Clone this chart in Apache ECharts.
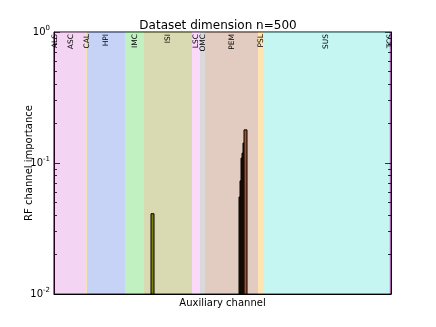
<!DOCTYPE html>
<html>
<head>
<meta charset="utf-8">
<script src="https://cdn.jsdelivr.net/npm/echarts@6/dist/echarts.min.js"></script>
<style>html,body{margin:0;padding:0;background:#fff}#c{width:436px;height:327px}</style>
</head>
<body>
<div id="c"></div>
<script>
// ---- data ----
const bandNames  = ['ALS','ASC','CAL','HPI','IMC','ISI','LSC','OMC','PEM','PSL','SUS','TCS'];
const bandStarts = [0, 1, 32, 33, 71, 90, 138, 146, 151, 204, 209, 335];
const bandEnds   = [1, 32, 33, 71, 90, 138, 146, 151, 204, 209, 335, 337];
const bandColors = ['#800080','#da70d6','#daa520','#4169e1','#32cd32','#808000','#ee82ee','#808080','#a0522d','#ffa500','#40e0d0','#ff00ff'];

const isiChannels = [97, 98, 99];
const isiValues   = [0.041, 0.041, 0.041];
const pemChannels = [185, 186, 187, 188, 189, 190, 191, 192];
const pemValues   = [0.055, 0.073, 0.109, 0.119, 0.142, 0.179, 0.179, 0.179];

const yTicks = [0.01, 0.1, 1];
const xMax = 337;

// merge adjacent channels of equal value into one bar
function buildBars(ch, val){
  const out = [];
  for (let i = 0; i < ch.length; i++){
    const last = out[out.length-1];
    if (last && last[1] === ch[i] && last[2] === val[i]) { last[1] = ch[i] + 1; }
    else out.push([ch[i], ch[i] + 1, val[i]]);
  }
  return out;
}

const bandData = bandNames.map((n, i) => [bandStarts[i], bandEnds[i], i]);

const chart = echarts.init(document.getElementById('c'), null, {renderer: 'canvas'});
const F = 'DejaVu Sans';

function barSeries(data, color){
  return {
    type: 'custom', z: 5, clip: true,
    data: data,
    encode: {x: [0, 1], y: 2},
    renderItem: function(params, api){
      const p0 = api.coord([api.value(0), api.value(2)]);
      const p1 = api.coord([api.value(1), yTicks[0]]);
      return {type: 'rect', shape: {x: p0[0], y: p0[1], width: p1[0]-p0[0], height: p1[1]-p0[1]},
              style: {fill: color, stroke: '#000', lineWidth: 1}};
    }
  };
}

chart.setOption({
  animation: false,
  textStyle: {fontFamily: F},
  title: {text: 'Dataset dimension n=500', left: 'center', top: 15,
          textStyle: {fontFamily: F, fontSize: 12, fontWeight: 'normal', color: '#000'}},
  grid: {left: 54, right: 45, top: 32, bottom: 33, show: true, borderColor: '#000', borderWidth: 1, backgroundColor: 'transparent'},
  xAxis: {type: 'value', min: 0, max: xMax,
          name: 'Auxiliary channel', nameLocation: 'middle', nameGap: 4,
          nameTextStyle: {fontFamily: F, fontSize: 10, color: '#000'},
          axisLine: {show: true, lineStyle: {color: '#000'}}, axisTick: {show: false},
          axisLabel: {show: false}, splitLine: {show: false}},
  yAxis: [{type: 'log', logBase: 10, min: yTicks[0], max: yTicks[yTicks.length-1],
          name: 'RF channel importance', nameLocation: 'middle', nameGap: 20, nameMoveOverlap: false,
          nameTextStyle: {fontFamily: F, fontSize: 10, color: '#000'},
          axisLine: {show: true, lineStyle: {color: '#000'}},
          axisTick: {show: true, inside: true, length: 6, lineStyle: {color: '#000'}},
          minorTick: {show: true, splitNumber: 9, length: 3, lineStyle: {color: '#000'}},
          axisLabel: {margin: 4, color: '#000', fontFamily: F,
            formatter: function(v){ const e = Math.round(Math.log10(v)); return '{b|10}{s|' + (e < 0 ? '-' + (-e) : e) + '}'; },
            rich: {b: {fontSize: 10, fontFamily: F, color: '#000'}, s: {fontSize: 7, fontFamily: F, color: '#000', verticalAlign: 'top', padding: [0,0,8,0]}}},
          splitLine: {show: false}, minorSplitLine: {show: false}},
          {type: 'log', logBase: 10, min: yTicks[0], max: yTicks[yTicks.length-1], position: 'right',
          axisLine: {show: true, lineStyle: {color: '#000'}},
          axisTick: {show: true, inside: true, length: 6, lineStyle: {color: '#000'}},
          minorTick: {show: true, splitNumber: 9, length: 3, lineStyle: {color: '#000'}},
          axisLabel: {show: false}, splitLine: {show: false}}],
  series: [
    {
      type: 'custom', z: 1, clip: false,
      data: bandData,
      encode: {x: [0, 1]},
      renderItem: function(params, api){
        const s = api.value(0), e = api.value(1), i = api.value(2);
        const p0 = api.coord([s, yTicks[yTicks.length-1]]);
        const p1 = api.coord([e, yTicks[0]]);
        const cx = (p0[0] + p1[0]) / 2;
        return {type: 'group', children: [
          {type: 'rect', shape: {x: p0[0], y: p0[1], width: p1[0]-p0[0], height: p1[1]-p0[1]},
           style: {fill: bandColors[i], opacity: 0.3}},
          {type: 'text', x: cx + 0.5, y: p0[1] + 2, rotation: Math.PI/2, z2: 10,
           style: {text: bandNames[i], fill: '#000', font: '7.5px "DejaVu Sans"', align: 'right', verticalAlign: 'middle'}}
        ]};
      }
    },
    barSeries(buildBars(isiChannels, isiValues), bandColors[5]),
    barSeries(buildBars(pemChannels, pemValues), bandColors[8])
  ]
});
</script>
</body>
</html>
